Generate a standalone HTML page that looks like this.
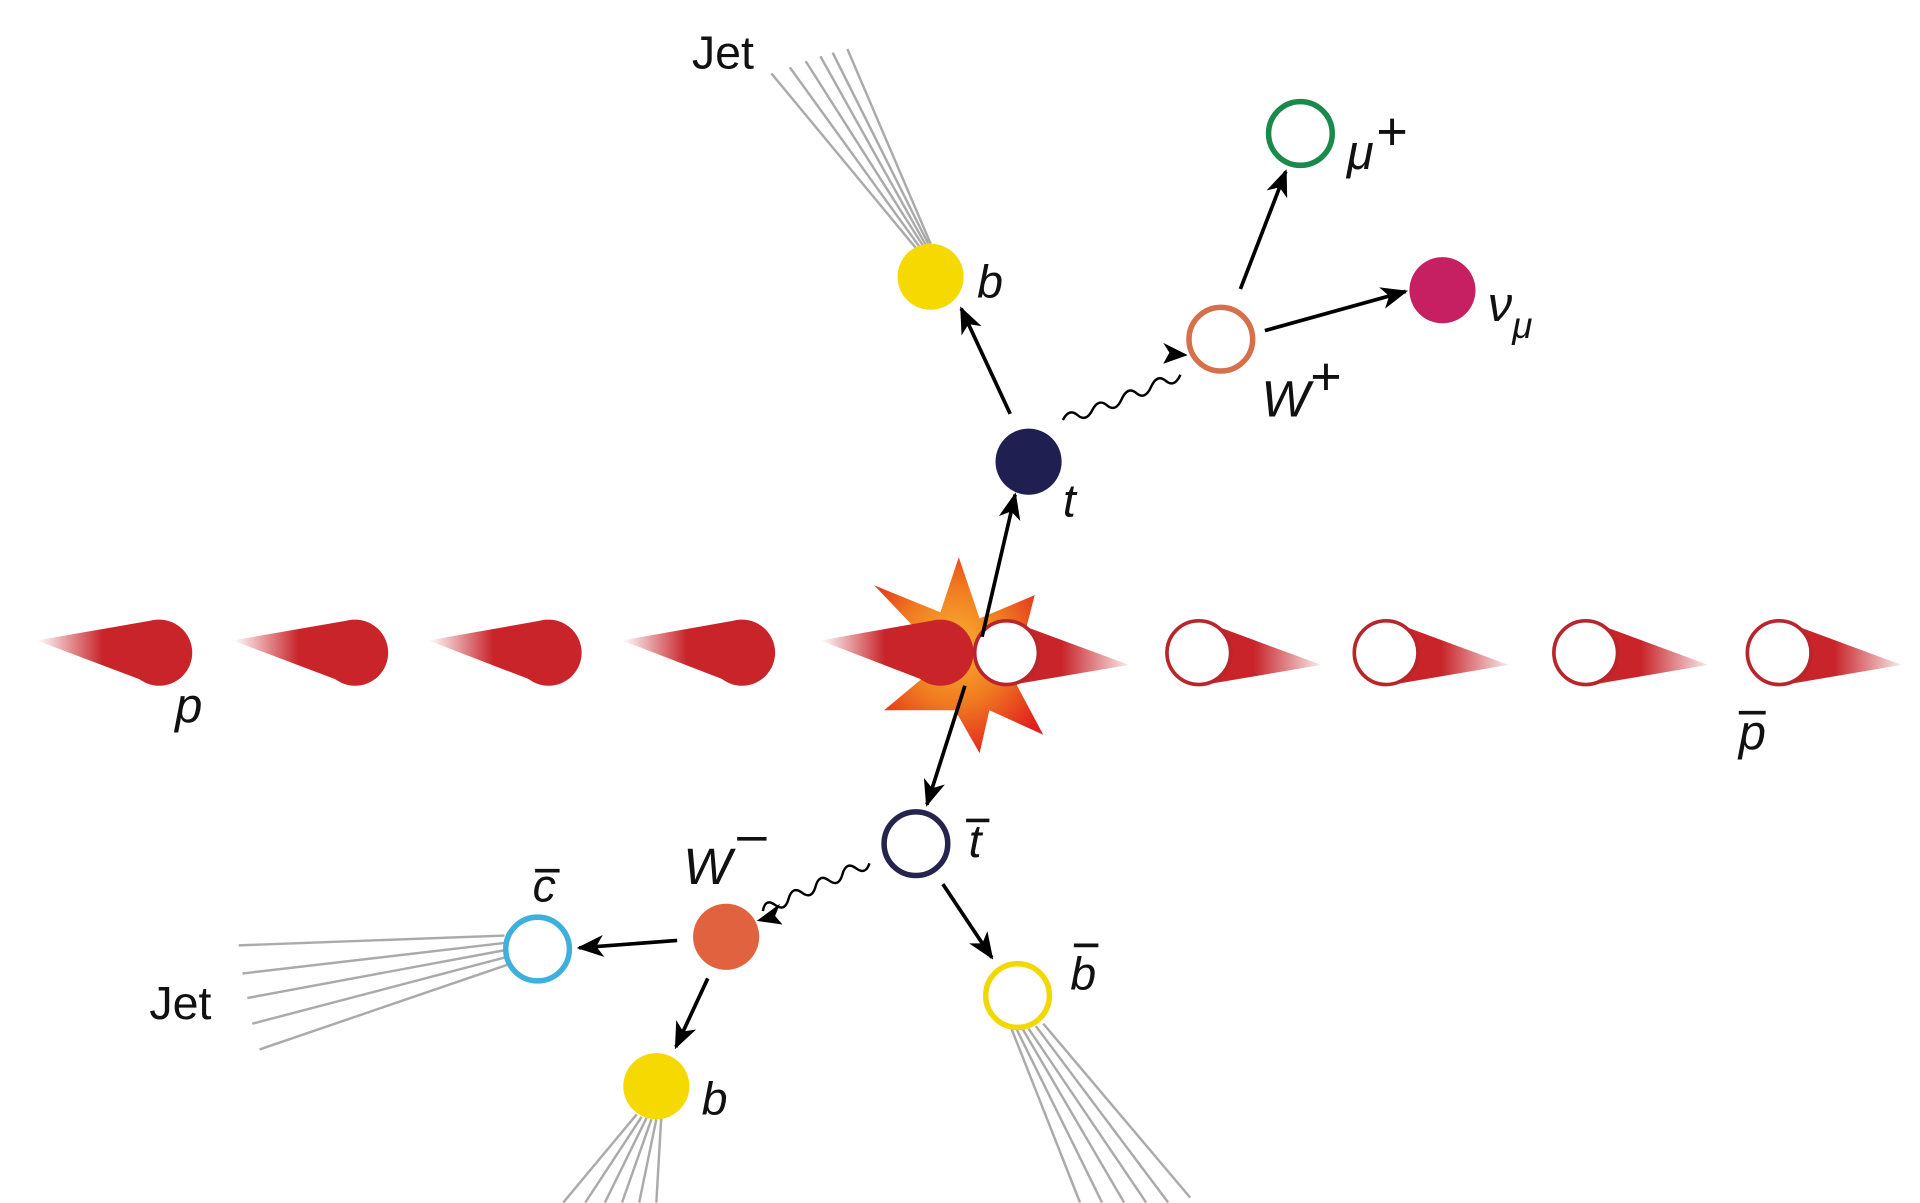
<!DOCTYPE html>
<html><head><meta charset="utf-8"><style>
html,body{margin:0;padding:0;background:#fff;overflow:hidden}
svg{display:block}
text{font-family:"Liberation Sans",sans-serif;fill:#111}
.i{font-style:italic}
</style></head><body>
<svg width="1920" height="1203" viewBox="0 0 1568 982.4" preserveAspectRatio="none" xmlns="http://www.w3.org/2000/svg">
<defs>
<linearGradient id="tl" x1="0" x2="1" y1="0" y2="0"><stop offset="0" stop-color="#c8242a" stop-opacity="0"/><stop offset="0.55" stop-color="#c8242a"/><stop offset="1" stop-color="#c8242a"/></linearGradient>
<linearGradient id="tr" x1="0" x2="1" y1="0" y2="0"><stop offset="0" stop-color="#c8242a"/><stop offset="0.45" stop-color="#c8242a"/><stop offset="1" stop-color="#c8242a" stop-opacity="0.1"/></linearGradient>
<radialGradient id="ex" cx="0.45" cy="0.45" r="0.6"><stop offset="0" stop-color="#f9b233"/><stop offset="0.5" stop-color="#f07a20"/><stop offset="1" stop-color="#e0201e"/></radialGradient>
<marker id="A" markerWidth="22" markerHeight="18" refX="20" refY="9" orient="auto" markerUnits="userSpaceOnUse"><path d="M0,0 L22,9 L0,18 L6,9 Z" fill="#000"/></marker>
</defs>

<polygon fill="url(#ex)" points="783,455 800,505 845,486 835,525 860,545 828,555 852,600 808,580 800,615 780,580 722,580 752,555 728,525 754,520 714,478 768,500" />

<g fill="#c8242a">
<path d="M30,523 L128,506 L128,560 Z" fill="url(#tl)"/><circle cx="130" cy="533" r="27"/>
<path d="M190,523 L288,506 L288,560 Z" fill="url(#tl)"/><circle cx="290" cy="533" r="27"/>
<path d="M350,523 L446,506 L446,560 Z" fill="url(#tl)"/><circle cx="448" cy="533" r="27"/>
<path d="M508,523 L604,506 L604,560 Z" fill="url(#tl)"/><circle cx="606" cy="533" r="27"/>
<path d="M670,523 L766,506 L766,560 Z" fill="url(#tl)"/><circle cx="768" cy="533" r="27"/>
</g>
<g>
<path d="M822,506 L922,543 L822,560 Z" fill="url(#tr)"/>
<path d="M979,506 L1079,543 L979,560 Z" fill="url(#tr)"/>
<path d="M1132,506 L1232,543 L1132,560 Z" fill="url(#tr)"/>
<path d="M1295,506 L1395,543 L1295,560 Z" fill="url(#tr)"/>
<path d="M1453,506 L1553,543 L1453,560 Z" fill="url(#tr)"/>
</g>
<g fill="#fff" stroke="#b8262c" stroke-width="3">
<circle cx="822" cy="533" r="26"/><circle cx="979" cy="533" r="26"/><circle cx="1132" cy="533" r="26"/><circle cx="1295" cy="533" r="26"/><circle cx="1453" cy="533" r="26"/>
</g>

<g stroke="#aaa" stroke-width="2" fill="none">
<line x1="750" y1="205" x2="630" y2="60"/><line x1="752" y1="203" x2="645" y2="55"/><line x1="754" y1="201" x2="658" y2="50"/><line x1="756" y1="200" x2="670" y2="46"/><line x1="758" y1="199" x2="680" y2="43"/><line x1="760" y1="199" x2="692" y2="40"/>
<line x1="412" y1="764" x2="195" y2="772"/><line x1="412" y1="770" x2="198" y2="795"/><line x1="412" y1="776" x2="202" y2="815"/><line x1="412" y1="782" x2="206" y2="836"/><line x1="414" y1="788" x2="212" y2="857"/>
<line x1="520" y1="910" x2="460" y2="982"/><line x1="524" y1="912" x2="478" y2="982"/><line x1="528" y1="913" x2="494" y2="982"/><line x1="532" y1="914" x2="508" y2="982"/><line x1="536" y1="914" x2="522" y2="982"/><line x1="540" y1="913" x2="536" y2="982"/>
<line x1="826" y1="840" x2="882" y2="982"/><line x1="830" y1="840" x2="900" y2="982"/><line x1="835" y1="840" x2="918" y2="982"/><line x1="840" y1="840" x2="936" y2="982"/><line x1="846" y1="838" x2="954" y2="982"/><line x1="852" y1="836" x2="972" y2="978"/>
</g>

<g stroke="#000" stroke-width="3" fill="none">
<line x1="825" y1="338" x2="785" y2="252" marker-end="url(#A)"/>
<line x1="1013" y1="236" x2="1050" y2="140" marker-end="url(#A)"/>
<line x1="1033" y1="270" x2="1148" y2="238" marker-end="url(#A)"/>
<line x1="802" y1="520" x2="829" y2="404" marker-end="url(#A)"/>
<line x1="788" y1="560" x2="757" y2="657" marker-end="url(#A)"/>
<line x1="553" y1="768" x2="473" y2="774" marker-end="url(#A)"/>
<line x1="578" y1="799" x2="552" y2="855" marker-end="url(#A)"/>
<line x1="770" y1="722" x2="810" y2="782" marker-end="url(#A)"/>
</g>
<g stroke="#000" stroke-width="2" fill="none">
<path d="M868,343 q5,-10 12,-4 t12,-4 t12,-4 t12,-5 t12,-5 t12,-5 t12,-5 t12,-5" />
<path d="M710,705 q-3,10 -11,4 t-11,5 t-11,5 t-11,5 t-11,5 t-11,5 t-11,5 t-10,5"/>
</g>
<polygon points="970,290 950,297 955,288 950,280" fill="#000"/>
<polygon points="618,752 637,738 633,748 639,755" fill="#000"/>

<circle cx="840" cy="377" r="27" fill="#1f1f52"/>
<circle cx="760" cy="226" r="27" fill="#f6d900"/>
<circle cx="997" cy="277" r="26" fill="#fff" stroke="#d5704a" stroke-width="4.5"/>
<circle cx="1062" cy="109" r="26" fill="#fff" stroke="#1a8a4c" stroke-width="4.5"/>
<circle cx="1178" cy="237" r="27" fill="#c61f62"/>
<circle cx="748" cy="689" r="26" fill="#fff" stroke="#24244f" stroke-width="4.5"/>
<circle cx="593" cy="765" r="27" fill="#e0623e"/>
<circle cx="439" cy="775" r="26" fill="#fff" stroke="#3fb0dc" stroke-width="4.5"/>
<circle cx="536" cy="887" r="27" fill="#f6d900"/>
<circle cx="831" cy="813" r="26" fill="#fff" stroke="#f2d800" stroke-width="4.5"/>

<text x="565" y="56" font-size="38">Jet</text>
<text x="122" y="832" font-size="38">Jet</text>
<text class="i" x="798" y="243" font-size="38">b</text>
<text class="i" x="868" y="422" font-size="38">t</text>
<text class="i" x="1030" y="340" font-size="42">W</text><text x="1070" y="322" font-size="44">+</text>
<text class="i" x="1100" y="138" font-size="40">μ</text><text x="1124" y="122" font-size="44">+</text>
<text class="i" x="1215" y="262" font-size="40">ν</text><text class="i" x="1235" y="276" font-size="30">μ</text>
<text class="i" x="143" y="590" font-size="40">p</text>
<text class="i" x="1420" y="612" font-size="40">p</text><line x1="1420" y1="582" x2="1442" y2="582" stroke="#111" stroke-width="3"/>
<text class="i" x="791" y="700" font-size="38">t</text><line x1="789" y1="670" x2="808" y2="670" stroke="#111" stroke-width="3"/>
<text class="i" x="558" y="722" font-size="42">W</text><line x1="602" y1="685" x2="626" y2="685" stroke="#111" stroke-width="3"/>
<text class="i" x="435" y="736" font-size="38">c</text><line x1="437" y1="711" x2="457" y2="711" stroke="#111" stroke-width="3"/>
<text class="i" x="573" y="910" font-size="38">b</text>
<text class="i" x="874" y="808" font-size="38">b</text><line x1="877" y1="772" x2="897" y2="772" stroke="#111" stroke-width="3"/>
</svg>
</body></html>
